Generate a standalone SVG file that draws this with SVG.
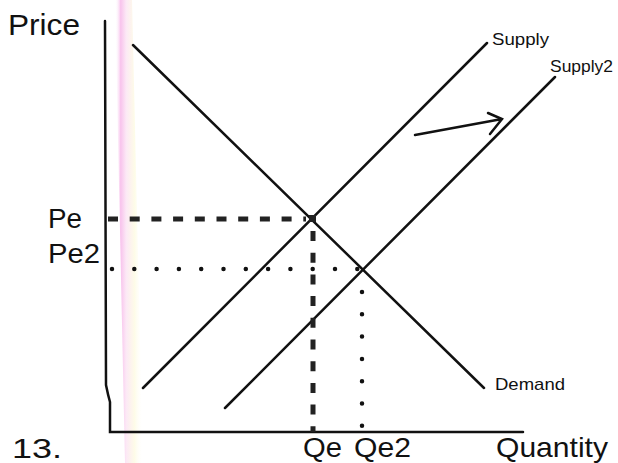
<svg xmlns="http://www.w3.org/2000/svg" width="618" height="463" viewBox="0 0 618 463">
<defs>
<linearGradient id="band" x1="0" y1="0" x2="1" y2="0">
<stop offset="0" stop-color="#ffffff" stop-opacity="0"/>
<stop offset="0.2" stop-color="#f6b4e8"/>
<stop offset="0.4" stop-color="#fbe3f3"/>
<stop offset="0.7" stop-color="#fdfbe2"/>
<stop offset="1" stop-color="#ffffff" stop-opacity="0"/>
</linearGradient>
<style>
.ln{fill:none;stroke:#111;stroke-width:2.5;stroke-linecap:round}
.t{font-family:"Liberation Sans",Arial,sans-serif;fill:#111}
.dash{fill:none;stroke:#222;stroke-width:5;stroke-dasharray:10 11.7}
.dot{fill:none;stroke:#111;stroke-width:4.5;stroke-linecap:round;stroke-dasharray:0 22.3}
</style>
</defs>
<rect width="618" height="463" fill="#ffffff"/>
<polygon id="scan-band" points="115,0 132,0 143,463 125,463" fill="url(#band)" opacity="0.8"/>
<g id="axes">
<path class="ln" d="M105,21 L106,385 Q108,395 110,402 L110,432 L523,432"/>
</g>
<g id="connectors">
<line class="ln" x1="133" y1="45" x2="484" y2="388"/>
<line class="ln" x1="143" y1="388" x2="487" y2="43"/>
<line class="ln" x1="225" y1="408" x2="555" y2="77"/>
<line class="dash" x1="108" y1="219" x2="306" y2="219"/>
<line class="dash" x1="313" y1="231" x2="313" y2="432"/>
<line class="dot" x1="112" y1="269" x2="360" y2="269"/>
<line class="dot" x1="362" y1="292" x2="362" y2="430"/>
<rect x="309" y="215" width="7" height="7" fill="#222"/>
<path class="ln" d="M415,135 L502,119 M488,113 L502,119 L490,134"/>
</g>
<g id="labels">
<text class="t" x="8" y="35" font-size="30" textLength="72" lengthAdjust="spacingAndGlyphs">Price</text>
<text class="t" x="48" y="228" font-size="27" textLength="34" lengthAdjust="spacingAndGlyphs">Pe</text>
<text class="t" x="48" y="263" font-size="27" textLength="52" lengthAdjust="spacingAndGlyphs">Pe2</text>
<text class="t" x="492" y="45" font-size="17" textLength="57" lengthAdjust="spacingAndGlyphs">Supply</text>
<text class="t" x="550" y="72" font-size="17" textLength="63" lengthAdjust="spacingAndGlyphs">Supply2</text>
<text class="t" x="495" y="390" font-size="17" textLength="70" lengthAdjust="spacingAndGlyphs">Demand</text>
<text class="t" x="12" y="458" font-size="28" textLength="50" lengthAdjust="spacingAndGlyphs">13.</text>
<text class="t" x="303" y="457" font-size="27" textLength="39" lengthAdjust="spacingAndGlyphs">Qe</text>
<text class="t" x="354" y="457" font-size="27" textLength="57" lengthAdjust="spacingAndGlyphs">Qe2</text>
<text class="t" x="496" y="457" font-size="28" textLength="112" lengthAdjust="spacingAndGlyphs">Quantity</text>
</g>
</svg>
